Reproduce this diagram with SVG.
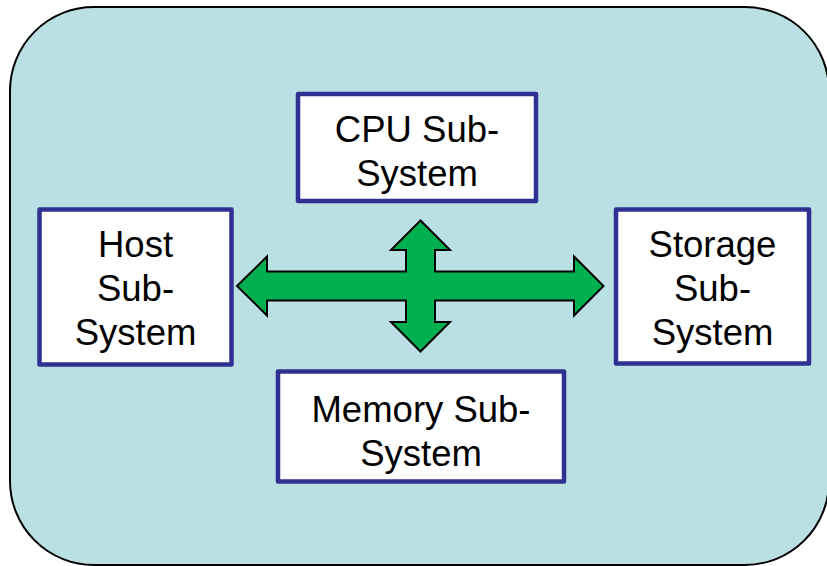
<svg xmlns="http://www.w3.org/2000/svg" width="827" height="566" viewBox="0 0 827 566">
  <style>
    .frame { fill: #BAE0E3; stroke: #000000; stroke-width: 2; }
    .box { fill: #FFFFFF; stroke: #2E3192; stroke-width: 4.5; stroke-linejoin: round; }
    .lbl { font-family: "Liberation Sans", Arial, sans-serif; font-size: 36.5px; fill: #000000; text-anchor: middle; }
    .arrow { fill: #00B050; stroke: #000000; stroke-width: 2; stroke-linejoin: miter; }
  </style>
  <rect class="frame" x="10" y="7" width="819" height="558" rx="84" ry="84"/>
  <g id="connectors">
    <path class="arrow" d="M237,286 L267,256.5 L267,271.5 L406,271.5 L406,250 L391,250 L420.5,220.5 L450,250 L435,250 L435,271.5 L574,271.5 L574,256.5 L603.5,286 L574,315.5 L574,300.5 L435,300.5 L435,322 L450,322 L420.5,351.5 L391,322 L406,322 L406,300.5 L267,300.5 L267,315.5 Z"/>
  </g>
  <g id="cpu">
    <rect class="box" x="298" y="94" width="238" height="107"/>
    <text class="lbl" x="417" y="142">CPU Sub-</text>
    <text class="lbl" x="417" y="186">System</text>
  </g>
  <g id="host">
    <rect class="box" x="39.5" y="209.5" width="192" height="155"/>
    <text class="lbl" x="135.5" y="257">Host</text>
    <text class="lbl" x="135.5" y="301">Sub-</text>
    <text class="lbl" x="135.5" y="345">System</text>
  </g>
  <g id="storage">
    <rect class="box" x="616" y="209.5" width="193" height="154"/>
    <text class="lbl" x="712.5" y="257">Storage</text>
    <text class="lbl" x="712.5" y="301">Sub-</text>
    <text class="lbl" x="712.5" y="345">System</text>
  </g>
  <g id="memory">
    <rect class="box" x="278" y="371.5" width="286" height="110"/>
    <text class="lbl" x="421" y="422">Memory Sub-</text>
    <text class="lbl" x="421" y="466">System</text>
  </g>
</svg>
